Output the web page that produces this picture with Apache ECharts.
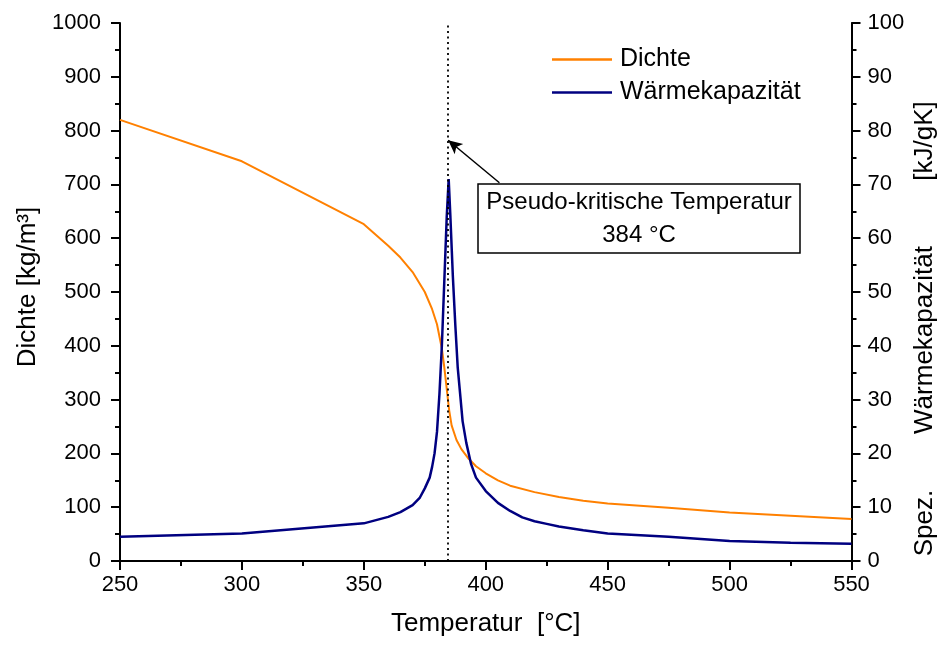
<!DOCTYPE html>
<html><head><meta charset="utf-8">
<script src="https://cdn.jsdelivr.net/npm/echarts@6/dist/echarts.min.js"></script>
<style>html,body{margin:0;padding:0;background:#fff}#c{width:942px;height:645px}</style>
</head><body><div id="c"></div>
<script>
// Dichte (density) [kg/m3] vs temperature [°C]
const densT = [250, 300, 350, 355, 360, 365, 370, 375, 378, 380, 382, 383, 384, 385, 386, 388, 390, 393, 396, 400, 405, 410, 420, 430, 440, 450, 475, 500, 525, 550];
const densV = [820, 743, 626, 606, 586, 564, 537, 500, 468, 440, 395, 360, 320, 280, 252, 225, 208, 190, 176, 163, 150, 140, 128, 119, 112, 107, 99, 90, 84, 78];
// Wärmekapazität (heat capacity) [kJ/gK] vs temperature [°C]
const cpT = [250, 300, 350, 355, 360, 365, 370, 373, 375, 377, 378, 379, 380, 381, 382, 383, 384, 384.8, 385.5, 386.5, 387.5, 388.5, 389.5, 390.5, 392, 394, 396, 400, 405, 410, 415, 420, 425, 430, 440, 450, 475, 500, 525, 550];
const cpV = [4.5, 5.1, 7.0, 7.6, 8.2, 9.1, 10.4, 11.8, 13.5, 15.5, 17.5, 20, 24, 31, 40, 52, 64, 71, 64, 53, 44, 36, 31, 26, 22, 18, 15.5, 13, 10.8, 9.3, 8.1, 7.4, 6.9, 6.4, 5.7, 5.1, 4.5, 3.7, 3.4, 3.2];
const pseudoT = 384.6;
const seriesNames = ['Dichte', 'Wärmekapazität'];
const annotationLines = ['Pseudo-kritische Temperatur', '384 °C'];
const rightTitleParts = ['Spez.', 'Wärmekapazität', '[kJ/gK]'];

const FONT = '"Liberation Sans", Arial, sans-serif';
const chart = echarts.init(document.getElementById('c'), null, {renderer: 'canvas'});

const plainFmt = v => String(v);
const axisCommon = {
  axisLine: {show: true, onZero: false, lineStyle: {color: '#000', width: 2}},
  axisTick: {show: true, inside: false, length: 9, lineStyle: {color: '#000', width: 2}},
  minorTick: {show: true, splitNumber: 2, length: 5, lineStyle: {color: '#000', width: 2}},
  splitLine: {show: false},
  axisLabel: {color: '#000', fontSize: 22, fontFamily: FONT, formatter: plainFmt}
};

const rotText = (txt, x, y, size) => ({
  type: 'text', rotation: Math.PI / 2, x: x, y: y,
  style: {text: txt, fill: '#000', font: size + 'px ' + FONT, align: 'center', verticalAlign: 'middle'}
});

const option = {
  animation: false,
  backgroundColor: '#fff',
  grid: {left: 120, right: 90.5, top: 23, bottom: 84, containLabel: false},
  legend: {
    data: seriesNames, orient: 'vertical', left: 547, top: 42,
    itemWidth: 60, itemHeight: 2.5, itemGap: 8, icon: 'rect',
    textStyle: {color: '#000', fontSize: 25, fontFamily: FONT, padding: [0, 0, 0, 3]}
  },
  xAxis: [
    Object.assign({}, axisCommon, {
      type: 'value', min: 250, max: 550, interval: 50, position: 'bottom',
      axisLabel: Object.assign({}, axisCommon.axisLabel, {margin: 13}),
      name: 'Temperatur  [°C]', nameLocation: 'middle', nameGap: 50,
      nameTextStyle: {color: '#000', fontSize: 26, fontFamily: FONT}
    }),
    {type: 'value', min: 250, max: 550, interval: 50, position: 'top',
     axisLine: {show: true, lineStyle: {color: '#000', width: 2}},
     axisTick: {show: false}, axisLabel: {show: false}, splitLine: {show: false}}
  ],
  yAxis: [
    Object.assign({}, axisCommon, {
      type: 'value', min: 0, max: 1000, interval: 100, position: 'left',
      axisLabel: Object.assign({}, axisCommon.axisLabel, {margin: 19})
    }),
    Object.assign({}, axisCommon, {
      type: 'value', min: 0, max: 100, interval: 10, position: 'right',
      axisLabel: Object.assign({}, axisCommon.axisLabel, {margin: 16})
    })
  ],
  graphic: [
    rotText('Dichte [kg/m³]', 28, 287, 26),
    rotText(rightTitleParts[0], 925, 523, 26),
    rotText(rightTitleParts[1], 925, 340, 26),
    rotText(rightTitleParts[2], 925, 141, 26),
    {type: 'rect', shape: {x: 478, y: 184, width: 322, height: 69},
     style: {fill: '#fff', stroke: '#000', lineWidth: 1.5}, z: 100},
    {type: 'text', x: 639, y: 202, z: 101,
     style: {text: annotationLines[0], fill: '#000', font: '24px ' + FONT, align: 'center', verticalAlign: 'middle'}},
    {type: 'text', x: 639, y: 235, z: 101,
     style: {text: annotationLines[1], fill: '#000', font: '24px ' + FONT, align: 'center', verticalAlign: 'middle'}}
  ],
  series: [
    {
      name: seriesNames[0], type: 'line', xAxisIndex: 0, yAxisIndex: 0,
      data: densT.map((t, i) => [t, densV[i]]),
      showSymbol: false, symbol: 'none', smooth: false,
      lineStyle: {color: '#FF8000', width: 2}, itemStyle: {color: '#FF8000'},
      z: 2,
      markLine: {
        silent: true, animation: false,
        data: [
          [{coord: [pseudoT, 0], symbol: 'none', lineStyle: {type: [2, 3.5], width: 1.8, color: '#000'}}, {coord: [pseudoT, 1000], symbol: 'none'}],
          [{coord: [405.6, 703], symbol: 'none'}, {coord: [pseudoT, 782], symbol: 'arrow', symbolSize: [10, 14]}]
        ],
        lineStyle: {color: '#000', width: 1.5, type: 'solid'},
        label: {show: false}
      }
    },
    {
      name: seriesNames[1], type: 'line', xAxisIndex: 0, yAxisIndex: 1,
      data: cpT.map((t, i) => [t, cpV[i]]),
      showSymbol: false, symbol: 'none', smooth: false,
      lineStyle: {color: '#000080', width: 2.5}, itemStyle: {color: '#000080'},
      z: 3
    }
  ]
};
chart.setOption(option);
</script></body></html>
